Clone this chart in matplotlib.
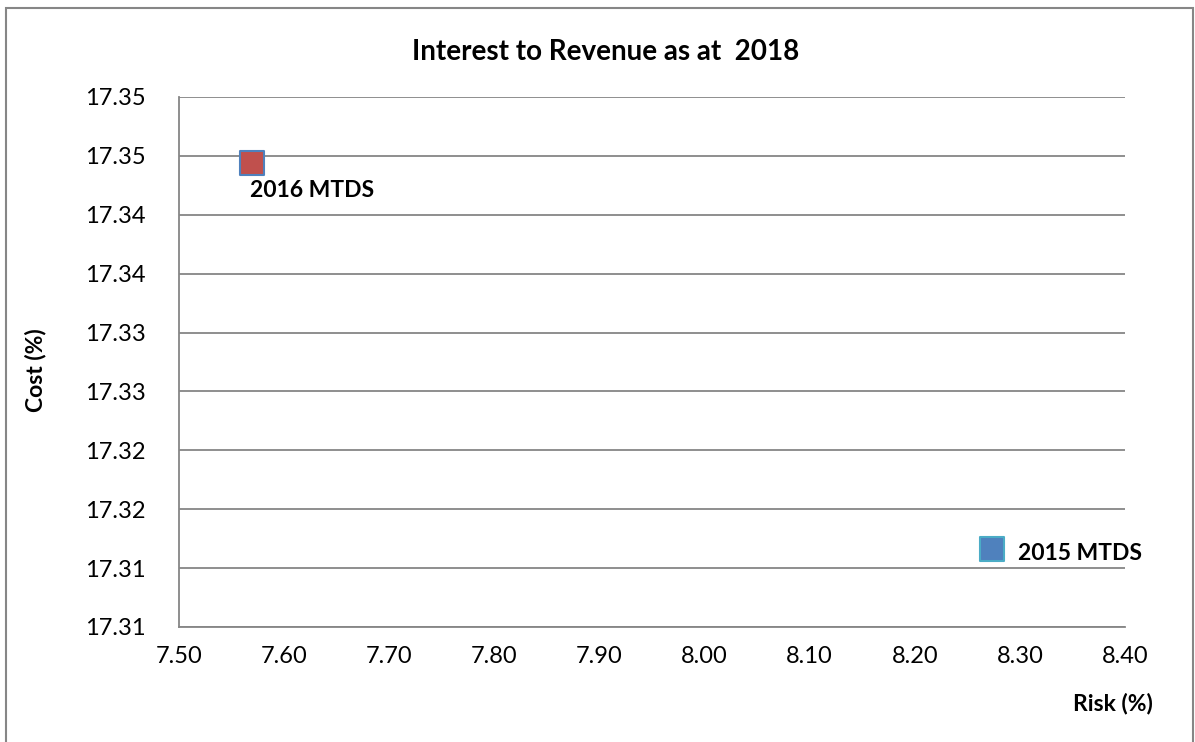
import matplotlib.pyplot as plt
from matplotlib.patches import Rectangle
from matplotlib.ticker import FuncFormatter
from decimal import Decimal, ROUND_HALF_UP

plt.rcParams['font.family'] = ['Lato', 'DejaVu Sans']

# risk / cost of each strategy
labels = ['2015 MTDS', '2016 MTDS']
risk = [8.2735, 7.569]
cost = [17.3116, 17.3444]
fills = ['#4F81BD', '#C0504D']
edges = ['#4BACC6', '#4F81BD']

xTicks = [7.50, 7.60, 7.70, 7.80, 7.90, 8.00, 8.10, 8.20, 8.30, 8.40]
yTicks = [17.305, 17.310, 17.315, 17.320, 17.325, 17.330, 17.335, 17.340, 17.345, 17.350]


def twoPlaces(v, pos):
    # round half up, the way a spreadsheet shows it
    d = Decimal(str(round(v, 6))).quantize(Decimal('0.01'), rounding=ROUND_HALF_UP)
    return str(d)


fig = plt.figure(figsize=(11.95, 7.42), dpi=100)
ax = fig.add_axes([0.1498, 0.155, 0.7916, 0.7143])

for i in range(len(labels)):
    ax.scatter(risk[i], cost[i], marker='s', s=300, color=fills[i],
               edgecolors=edges[i], linewidths=1.5, zorder=3)

ax.annotate(labels[0], (risk[0], cost[0]), xytext=(19, -3), textcoords='offset points',
            fontsize=16.5, fontweight='bold', va='center', ha='left')
ax.annotate(labels[1], (risk[1], cost[1]), xytext=(-1, -20), textcoords='offset points',
            fontsize=16.5, fontweight='bold', va='center', ha='left')

ax.set_xlim(7.50, 8.40)
ax.set_ylim(17.305, 17.350)
ax.set_xticks(xTicks)
ax.set_yticks(yTicks)
ax.xaxis.set_major_formatter(FuncFormatter(twoPlaces))
ax.yaxis.set_major_formatter(FuncFormatter(twoPlaces))
ax.tick_params(length=0, labelsize=17, pad=14)
ax.tick_params(axis='y', pad=24)
ax.grid(axis='y', color='#868686', linewidth=1.3)
ax.set_axisbelow(True)
for side in ['top', 'right']:
    ax.spines[side].set_visible(False)
for side in ['left', 'bottom']:
    ax.spines[side].set_color('#868686')
    ax.spines[side].set_linewidth(1.3)

fig.text(0.507, 0.930, 'Interest to Revenue as at  2018', fontsize=20, fontweight='bold',
         ha='center', va='center')
fig.text(0.0293, 0.501, 'Cost (%)', fontsize=16.5, fontweight='bold', rotation=90,
         ha='center', va='center')
fig.text(0.931, 0.0525, 'Risk (%)', fontsize=16.5, fontweight='bold', ha='center', va='center')

# outer chart border
fig.patches.append(Rectangle((6 / 1195, -0.01), 1187 / 1195, 0.999, transform=fig.transFigure,
                             fill=False, edgecolor='#868686', linewidth=1.5))

fig.savefig('out.png', dpi=100)
